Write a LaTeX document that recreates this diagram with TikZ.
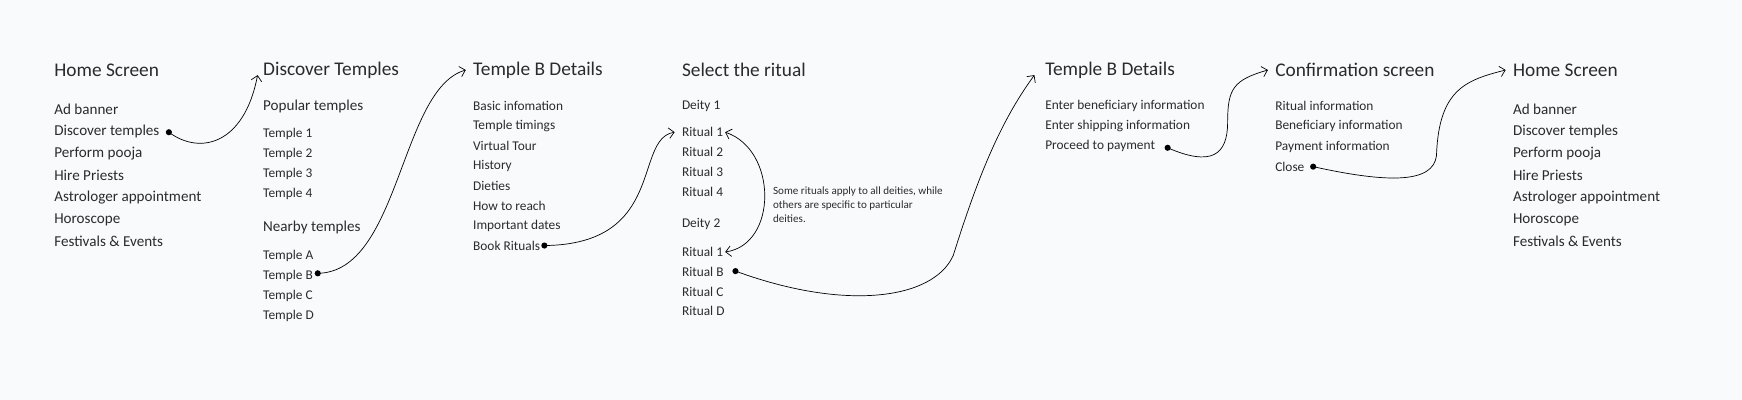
\documentclass[tikz,border=0pt]{standalone}
\usepackage{fontspec}
\setmainfont{Carlito}
\usetikzlibrary{positioning,arrows.meta}
\definecolor{bgpaper}{HTML}{F9FAFC}
\definecolor{inkgray}{HTML}{2B2B2B}
\tikzset{
  ttl/.style={anchor=west, inner sep=1pt, font=\fontsize{11pt}{13pt}\selectfont, text=inkgray},
  itm/.style={anchor=west, inner sep=1pt, font=\fontsize{7.6pt}{10pt}\selectfont, text=inkgray},
  big/.style={font=\fontsize{8.6pt}{11pt}\selectfont},
  flow/.style={-{Straight Barb[length=3pt]}, thin, black},
  dot/.style={circle, fill=black, inner sep=0pt, minimum size=3.5pt}
}
\begin{document}
\begin{tikzpicture}[x=0.02222cm, y=-0.02222cm]
  \fill[bgpaper] (0,0) rectangle (1568,360);
  \useasboundingbox (0,0) rectangle (1568,360);
  % Home screen
  \node[ttl] (hs) at (47,63) {Home Screen};
  \foreach \t [count=\i] in {Ad banner, Discover temples, Perform pooja, Hire Priests, Astrologer appointment, Horoscope, Festivals \& Events}
    \node[itm, big] (hs\i) at (47,79+19.8*\i) {\t};
  % Discover temples
  \node[ttl] (dt) at (235,63) {Discover Temples};
  \node[itm, big] (pop) at (235,96) {Popular temples};
  \foreach \t [count=\i] in {1,2,3,4}
    \node[itm] (tp\i) at (235,103+18*\i) {Temple \t};
  \node[itm, big] (nby) at (235,205) {Nearby temples};
  \foreach \t [count=\i] in {A,B,C,D}
    \node[itm] (tn\i) at (235,212+18*\i) {Temple \t};
  % Temple details
  \node[ttl] (td) at (424,63) {Temple B Details};
  \foreach \t [count=\i] in {Basic infomation, Temple timings, Virtual Tour, History, Dieties, How to reach, Important dates, Book Rituals}
    \node[itm] (td\i) at (424,77+18*\i) {\t};
  % Select the ritual
  \node[ttl] (sr) at (612,63) {Select the ritual};
  \node[itm] (dy1) at (612,95) {Deity 1};
  \foreach \t [count=\i] in {1,2,3,4}
    \node[itm] (ra\i) at (612,101+18*\i) {Ritual \t};
  \node[itm] (dy2) at (612,202) {Deity 2};
  \foreach \t [count=\i] in {1,B,C,D}
    \node[itm] (rb\i) at (612,209+17.8*\i) {Ritual \t};
  \node[itm, font=\fontsize{6.3pt}{8pt}\selectfont, align=left, anchor=north west] (note) at (694,166)
    {Some rituals apply to all deities, while\\others are specific to particular\\deities.};
  % Beneficiary details
  \node[ttl] (bd) at (939,63) {Temple B Details};
  \foreach \t [count=\i] in {Enter beneficiary information, Enter shipping information, Proceed to payment}
    \node[itm] (bd\i) at (939,77+18*\i) {\t};
  % Confirmation
  \node[ttl] (cf) at (1146,63) {Confirmation screen};
  \foreach \t [count=\i] in {Ritual information, Beneficiary information, Payment information, Close}
    \node[itm] (cf\i) at (1146,77+18.3*\i) {\t};
  % Home screen again
  \node[ttl] (hz) at (1360,63) {Home Screen};
  \foreach \t [count=\i] in {Ad banner, Discover temples, Perform pooja, Hire Priests, Astrologer appointment, Horoscope, Festivals \& Events}
    \node[itm, big] (hz\i) at (1360,79+19.8*\i) {\t};
  % Dots
  \node[dot] (d1) at (152,119) {};
  \node[dot] (d2) at (286,246) {};
  \node[dot] (d3) at (490,221) {};
  \node[dot] (d4) at (662,244) {};
  \node[dot] (d5) at (1051,133) {};
  \node[dot] (d6) at (1182,150) {};
  % Flow arrows
  \draw[flow] (d1.center) .. controls (180,140) and (220,130) .. ([xshift=-2pt,yshift=3pt]dt.south west);
  \draw[flow] (d2.center) .. controls (360,245) and (360,80) .. ([xshift=-3pt]td.west);
  \draw[flow] (d3.center) .. controls (600,220) and (570,125) .. ([xshift=-3pt]ra1.west);
  \draw[{Straight Barb[length=3pt]}-{Straight Barb[length=3pt]}, thin] (ra1.east) .. controls (700,135) and (700,220) .. (rb1.east);
  \draw[flow] (d4.center) .. controls (760,280) and (840,270) .. (858,230) .. controls (880,160) and (900,110) .. ([xshift=-5pt,yshift=3pt]bd.south west);
  \draw[flow] (d5.center) .. controls (1090,150) and (1105,140) .. (1105,110) .. controls (1105,80) and (1110,72) .. ([xshift=-3pt]cf.west);
  \draw[flow] (d6.center) .. controls (1250,165) and (1290,165) .. (1293,140) .. controls (1295,80) and (1320,72) .. ([xshift=-3pt]hz.west);
\end{tikzpicture}
\end{document}
